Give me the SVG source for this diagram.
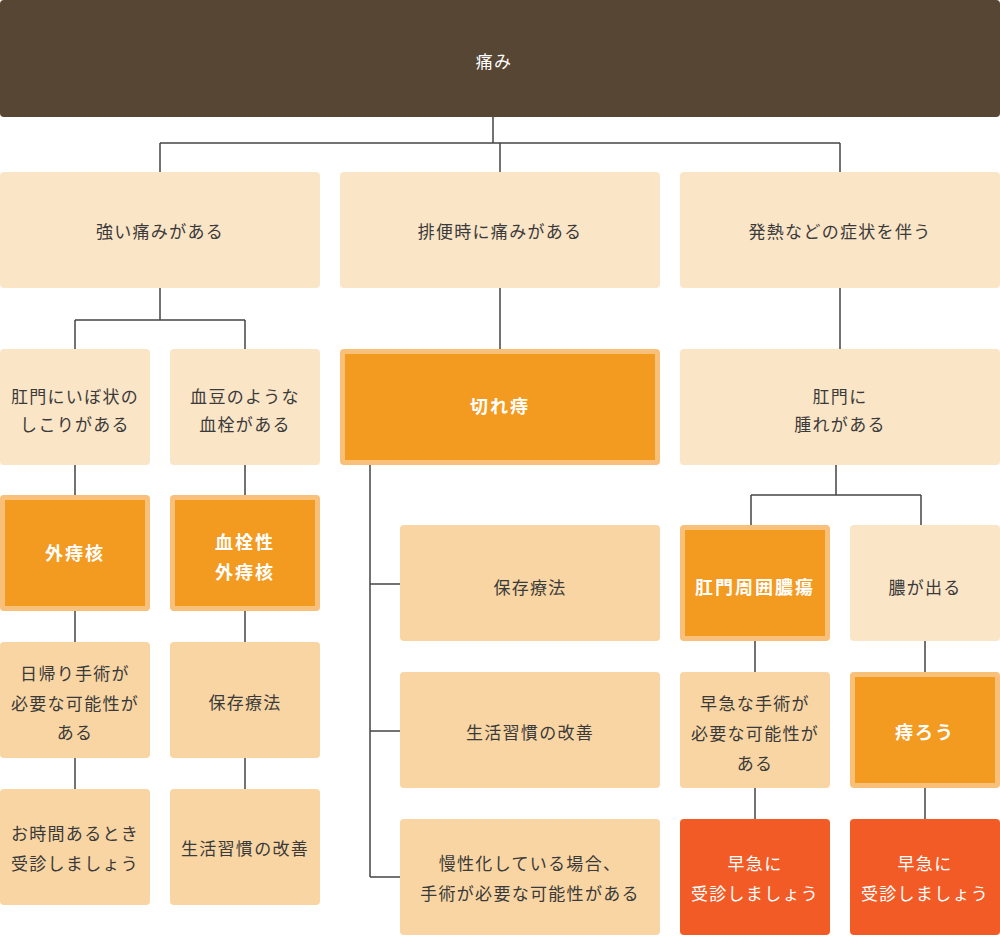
<svg xmlns="http://www.w3.org/2000/svg" width="1000" height="936" viewBox="0 0 1000 936">
<style>
text{font-family:"Noto Sans CJK JP","Noto Sans",sans-serif;font-size:17px;letter-spacing:1.3px;fill:#3a3a3a;text-anchor:middle;dominant-baseline:central}
.w{fill:#fff;font-weight:bold;font-size:18px;letter-spacing:2px}
.wn{fill:#fff}
.q{fill:#FBE5C7}
.t{fill:#F8D5A3}
.ob{fill:#F9C07A}
.oi{fill:#F39A21}
.r{fill:#F25A26}
.c{stroke:#444;stroke-width:1.5;fill:none}
</style>
<g id="connectors">
<path class="c" d="M493 117V143M160 143H840M160 143V172M840 143V172M500 143V172"/>
<path class="c" d="M160 288V320M75 320H245M75 320V349M245 320V349"/>
<path class="c" d="M500 288V349M840 288V349"/>
<path class="c" d="M75 465V495M245 465V495M75 611V642M245 611V642M75 758V789M245 758V789"/>
<path class="c" d="M370 465V877M370 584H400M370 731H400M370 877H400"/>
<path class="c" d="M836 465V495M751 495H921M751 495V525M921 495V525"/>
<path class="c" d="M755 641V672M925 641V672M755 788V819M925 788V819"/>
</g>
<g id="root"><rect x="0" y="0" width="1000" height="117" rx="4" fill="#574634"/><text class="wn" x="494" y="60">痛み</text></g>
<g id="n-strong"><rect class="q" x="0" y="172" width="320" height="116" rx="4"/><text x="160" y="230">強い痛みがある</text></g>
<g id="n-defecation"><rect class="q" x="340" y="172" width="320" height="116" rx="4"/><text x="500" y="230">排便時に痛みがある</text></g>
<g id="n-fever"><rect class="q" x="680" y="172" width="320" height="116" rx="4"/><text x="840" y="230">発熱などの症状を伴う</text></g>
<g id="n-lump"><rect class="q" x="0" y="349" width="150" height="116" rx="4"/><text x="75" y="395">肛門にいぼ状の</text><text x="75" y="423">しこりがある</text></g>
<g id="n-clot"><rect class="q" x="170" y="349" width="150" height="116" rx="4"/><text x="245" y="395">血豆のような</text><text x="245" y="423">血栓がある</text></g>
<g id="n-fissure"><rect class="ob" x="340" y="349" width="320" height="116" rx="4"/><rect class="oi" x="345" y="354" width="310" height="106"/><text class="w" x="500" y="405">切れ痔</text></g>
<g id="n-swelling"><rect class="q" x="680" y="349" width="320" height="116" rx="4"/><text x="840" y="395">肛門に</text><text x="840" y="423">腫れがある</text></g>
<g id="n-external"><rect class="ob" x="0" y="495" width="150" height="116" rx="4"/><rect class="oi" x="5" y="500" width="140" height="106"/><text class="w" x="75" y="552">外痔核</text></g>
<g id="n-thrombosed"><rect class="ob" x="170" y="495" width="150" height="116" rx="4"/><rect class="oi" x="175" y="500" width="140" height="106"/><text class="w" x="245" y="541">血栓性</text><text class="w" x="245" y="571">外痔核</text></g>
<g id="n-conservative-m"><rect class="t" x="400" y="525" width="260" height="116" rx="4"/><text x="530" y="586">保存療法</text></g>
<g id="n-lifestyle-m"><rect class="t" x="400" y="672" width="260" height="116" rx="4"/><text x="530" y="731">生活習慣の改善</text></g>
<g id="n-chronic"><rect class="t" x="400" y="819" width="260" height="116" rx="4"/><text x="530" y="862">慢性化している場合、</text><text x="530" y="892">手術が必要な可能性がある</text></g>
<g id="n-abscess"><rect class="ob" x="680" y="525" width="150" height="116" rx="4"/><rect class="oi" x="685" y="530" width="140" height="106"/><text class="w" x="755" y="586">肛門周囲膿瘍</text></g>
<g id="n-pus"><rect class="q" x="850" y="525" width="150" height="116" rx="4"/><text x="925" y="586">膿が出る</text></g>
<g id="n-dayop"><rect class="t" x="0" y="642" width="150" height="116" rx="4"/><text x="75" y="672">日帰り手術が</text><text x="75" y="702">必要な可能性が</text><text x="75" y="731">ある</text></g>
<g id="n-conservative-l"><rect class="t" x="170" y="642" width="150" height="116" rx="4"/><text x="245" y="701">保存療法</text></g>
<g id="n-urgentop"><rect class="t" x="680" y="672" width="150" height="116" rx="4"/><text x="755" y="702">早急な手術が</text><text x="755" y="732">必要な可能性が</text><text x="755" y="762">ある</text></g>
<g id="n-fistula"><rect class="ob" x="850" y="672" width="150" height="116" rx="4"/><rect class="oi" x="855" y="677" width="140" height="106"/><text class="w" x="925" y="731">痔ろう</text></g>
<g id="n-whenfree"><rect class="t" x="0" y="789" width="150" height="116" rx="4"/><text x="75" y="832">お時間あるとき</text><text x="75" y="862">受診しましょう</text></g>
<g id="n-lifestyle-l"><rect class="t" x="170" y="789" width="150" height="116" rx="4"/><text x="245" y="847">生活習慣の改善</text></g>
<g id="n-urgent1"><rect class="r" x="680" y="819" width="150" height="116" rx="4"/><text class="wn" x="755" y="862">早急に</text><text class="wn" x="755" y="892">受診しましょう</text></g>
<g id="n-urgent2"><rect class="r" x="850" y="819" width="150" height="116" rx="4"/><text class="wn" x="925" y="862">早急に</text><text class="wn" x="925" y="892">受診しましょう</text></g>
</svg>
